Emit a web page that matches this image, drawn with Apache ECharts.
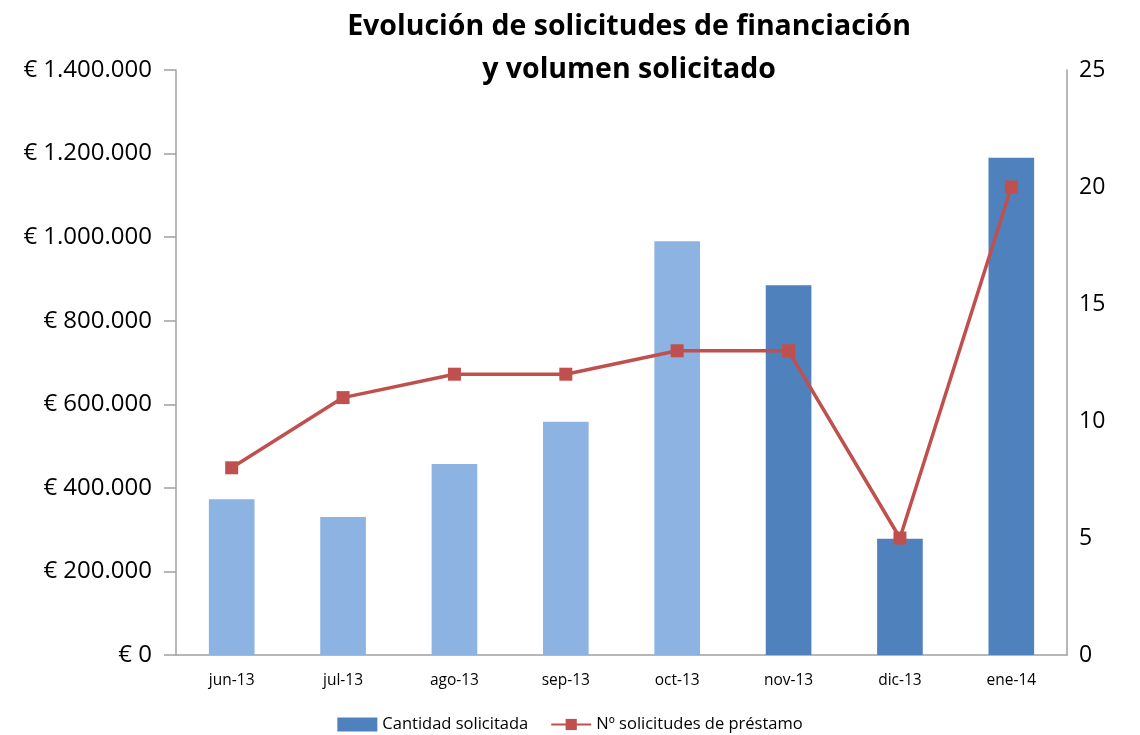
<!DOCTYPE html>
<html>
<head>
<meta charset="utf-8">
<script src="https://cdn.jsdelivr.net/npm/echarts@6/dist/echarts.min.js"></script>
<style>
  html, body { margin: 0; padding: 0; background: #fff; }
  #chart { width: 1140px; height: 735px; }
</style>
</head>
<body>
<div id="chart"></div>
<script>
// datos
const months = ['jun-13', 'jul-13', 'ago-13', 'sep-13', 'oct-13', 'nov-13', 'dic-13', 'ene-14']
const cantidad = [373000, 330000, 457000, 558000, 990000, 885000, 278000, 1190000]
const numSolicitudes = [8, 11, 12, 12, 13, 13, 5, 20]
// los 5 primeros meses van en azul claro
const lightCount = 5

const light = '#8DB3E2'
const dark = '#4F81BD'
const red = '#C0504D'
const font = 'Open Sans'

const fmtEuro = (v) => '€ ' + String(v).replace(/\B(?=(\d{3})+(?!\d))/g, '.')

const chart = echarts.init(document.getElementById('chart'))
chart.setOption({
  animation: false,
  title: {
    text: 'Evolución de solicitudes de financiación\ny volumen solicitado',
    left: 624,
    textAlign: 'center',
    top: 0,
    textStyle: { fontFamily: font, fontSize: 28.5, fontWeight: 'bold', color: '#000', lineHeight: 43 }
  },
  legend: {
    bottom: -3,
    left: 'center',
    itemGap: 22,
    textStyle: { fontFamily: font, fontSize: 16.5, color: '#000' },
    data: [
      { name: 'Cantidad solicitada', icon: 'rect', itemStyle: { color: dark } },
      { name: 'Nº solicitudes de préstamo' }
    ],
    itemWidth: 40,
    itemHeight: 14
  },
  grid: { left: 176, right: 73, top: 70, bottom: 80 },
  xAxis: {
    type: 'category',
    data: months,
    axisLine: { lineStyle: { color: '#a0a0a0', width: 1.5 } },
    axisTick: { show: false },
    axisLabel: { fontFamily: font, fontSize: 15.5, color: '#000', margin: 18 }
  },
  yAxis: [
    {
      type: 'value',
      min: 0,
      max: 1400000,
      interval: 200000,
      axisLine: { show: true, lineStyle: { color: '#a0a0a0', width: 1.5 } },
      axisTick: { show: true, length: 12, lineStyle: { color: '#a0a0a0', width: 1.5 } },
      splitLine: { show: false },
      axisLabel: { fontFamily: font, fontSize: 24, color: '#000', margin: 24, formatter: fmtEuro }
    },
    {
      type: 'value',
      min: 0,
      max: 25,
      interval: 5,
      axisLine: { show: true, lineStyle: { color: '#a0a0a0', width: 1.5 } },
      axisTick: { show: false },
      splitLine: { show: false },
      axisLabel: { fontFamily: font, fontSize: 23, color: '#000', margin: 12 }
    }
  ],
  series: [
    {
      name: 'Cantidad solicitada',
      type: 'bar',
      barWidth: '41%',
      data: cantidad.map((v, i) => ({
        value: v,
        itemStyle: { color: i < lightCount ? light : dark }
      }))
    },
    {
      name: 'Nº solicitudes de préstamo',
      type: 'line',
      yAxisIndex: 1,
      data: numSolicitudes,
      symbol: 'rect',
      symbolSize: 13,
      itemStyle: { color: red },
      lineStyle: { color: red, width: 3.5 }
    }
  ]
})
</script>
</body>
</html>
